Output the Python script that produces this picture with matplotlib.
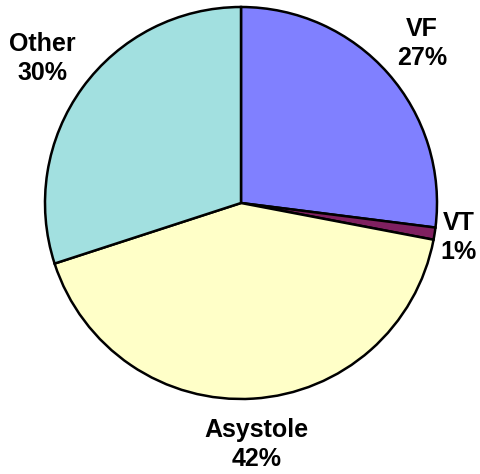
import numpy as np
import matplotlib
matplotlib.use("Agg")
import matplotlib.pyplot as plt

labels = ["VF", "VT", "Asystole", "Other"]
values = [27, 1, 42, 30]
colors = ["#8080FF", "#802060", "#FFFFC8", "#A2E0E0"]
label_dist = [1.23, 1.125, 1.235, 1.255]

fig = plt.figure(figsize=(4.80, 4.74), dpi=100)
ax = fig.add_axes([45 / 480, 75 / 474, 392 / 480, 392 / 474])
wedges, _ = ax.pie(values, colors=colors, startangle=90, counterclock=False,
                   wedgeprops=dict(edgecolor="black", linewidth=1.8))
ax.set_xlim(-1, 1)
ax.set_ylim(-1, 1)
ax.set_aspect("auto")
ax.axis("off")

for w, lab, v, d in zip(wedges, labels, values, label_dist):
    mid = np.deg2rad((w.theta1 + w.theta2) / 2)
    ax.text(d * np.cos(mid), d * np.sin(mid), f"{lab}\n{v}%", ha="center", va="center",
            fontsize=18, fontweight="bold", family="Liberation Sans",
            linespacing=1.3, clip_on=False)

fig.savefig("out.png", dpi=100)
